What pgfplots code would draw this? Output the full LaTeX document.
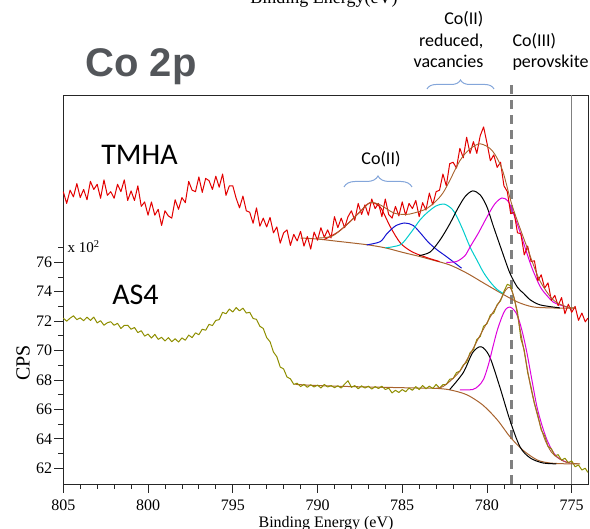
\documentclass[border=0pt]{standalone}
\usepackage{fontspec}
\setmainfont{Liberation Serif}
\newfontfamily\carlito{Carlito}
\newfontfamily\lsans{Liberation Sans}
\usepackage{pgfplots}
\pgfplotsset{compat=1.18}
\usetikzlibrary{decorations.pathreplacing}
\definecolor{spred}{RGB}{226,0,0}
\definecolor{spolive}{HTML}{8E8E00}
\definecolor{fitbrown}{HTML}{A8632E}
\definecolor{fitcyan}{HTML}{00CCCC}
\definecolor{fitblue}{HTML}{1414D2}
\definecolor{fitmag}{HTML}{DD00DD}
\definecolor{bracecol}{HTML}{84A6DA}
\definecolor{titlegray}{HTML}{53565A}
\definecolor{markgray}{HTML}{808080}

\begin{document}
\begin{tikzpicture}
\begin{axis}[
    scale only axis,
    width=524.7pt, height=389pt,
    x dir=reverse,
    xmin=774.04, xmax=805,
    ymin=60.93, ymax=87.37,
    xtick={775,780,...,805}, minor x tick num=4,
    ytick={62,64,...,76}, minor ytick={63,65,...,77},
    xtick pos=left, ytick pos=left,
    tick align=outside,
    major tick length=9pt, minor tick length=5pt,
    axis line style={black!85, line width=0.8pt},
    tick style={black!85, line width=0.8pt},
    xticklabel style={font=\fontsize{16}{18}\selectfont, inner sep=1pt, yshift=-5.5pt},
    yticklabel style={font=\fontsize{16}{18}\selectfont, inner sep=2pt},
    /pgf/number format/assume math mode=true,
    clip=false,
    every axis plot/.append style={line width=1pt, line join=round},
]
% reference lines
\draw[markgray, line width=1pt] (axis cs:775,60.93) -- (axis cs:775,87.37);
\draw[markgray, line width=2.8pt, dash pattern=on 9pt off 6pt] (axis cs:778.55,60.93) -- (axis cs:778.55,88.2);

% ---- TMHA fit components
\addplot[fitbrown, smooth] coordinates {
(791.0,77.65) (790,77.58) (789,77.45) (788,77.32) (787,77.18) (786,76.98) (785,76.68) (784,76.4)
(783.2,76.15) (782.2,75.82) (781.2,75.27) (780.2,74.59) (779.2,73.92) (778.2,73.3) (777.3,72.97)
(776.3,72.9) (775.3,72.88) (774.8,72.88)};
\addplot[spred, smooth] coordinates {
(789.6,77.55) (788.8,78.05) (788.1,78.74) (787.5,79.42) (786.9,80.05) (786.3,79.75) (785.7,78.4)
(785.1,77.3) (784.4,76.7) (783.5,76.3) (782.8,76.05)};
\addplot[fitblue, smooth] coordinates {
(787.1,77.18) (786.3,77.4) (785.9,77.95) (785.4,78.47) (784.85,78.67) (784.35,78.5) (783.9,77.95)
(783.45,77.35) (782.95,76.85) (782.35,76.35) (781.5,75.6)};
\addplot[fitcyan, smooth] coordinates {
(786.0,76.98) (785.1,77.2) (784.5,78.0) (783.95,78.88) (783.5,79.4) (783.0,79.83) (782.53,79.96)
(782.06,79.62) (781.77,79.08) (781.42,78.2) (781.0,77.04) (780.6,76.16) (780.2,75.3) (779.8,74.65)
(779.4,74.15) (779.0,73.85)};
\addplot[black, smooth] coordinates {
(784.0,76.45) (783.35,76.7) (782.75,77.55) (782.2,78.6) (781.75,79.6) (781.3,80.45) (780.85,80.85)
(780.4,80.58) (780.0,79.76) (779.65,78.54) (779.2,77.04) (778.65,75.27) (778.2,74.3) (777.85,73.9)
(777.45,73.45) (776.85,73.1) (775.7,72.9)};
\addplot[fitmag, smooth] coordinates {
(782.4,76.0) (781.8,76.05) (781.3,76.45) (781.0,77.04) (780.5,78.0) (780.0,79.08) (779.55,79.95)
(779.12,80.37) (778.75,80.15) (778.45,79.35) (778.05,78.06) (777.65,76.63) (777.3,75.48)
(776.85,74.32) (776.45,73.72) (776.1,73.3) (775.7,73.1) (775.3,72.97)};

% ---- AS4 fit components
\addplot[fitbrown, smooth] coordinates {
(791.3,67.7) (790,67.62) (788,67.55) (786,67.5) (784,67.45) (783,67.43) (782.2,67.33) (781.2,67.0)
(780.25,66.3) (779.4,65.3) (778.65,64.15) (777.9,63.25) (777.05,62.57) (776.3,62.36) (775.3,62.3)
(774.5,62.3)};
\addplot[black, smooth] coordinates {
(782.2,67.35) (781.4,68.5) (780.85,69.85) (780.35,70.26) (779.85,69.6) (779.25,67.55) (778.65,65.28)
(778.05,63.45) (777.45,62.7) (776.7,62.36) (775.9,62.3)};
\addplot[fitmag, smooth] coordinates {
(781.6,67.33) (780.85,67.35) (780.5,67.6) (780.2,68.05) (779.9,69.1) (779.65,70.25) (779.4,71.35)
(779.12,72.28) (778.9,72.8) (778.65,72.96) (778.4,72.75) (778.17,72.28) (777.9,71.2) (777.64,69.83)
(777.35,68.0) (777.05,66.17) (776.75,64.9) (776.46,63.93) (776.15,63.2) (775.87,62.77) (775.5,62.5)
(775.1,62.36)};

% ---- TMHA data
\addplot[spred] coordinates {
(805.0,80.8) (804.8,80.0) (804.6,80.9) (804.4,80.45) (804.2,81.35) (804.0,80.4) (803.8,80.95)
(803.6,80.25) (803.4,81.5) (803.2,80.95) (803.0,81.3) (802.8,80.35) (802.6,81.6) (802.4,80.55)
(802.2,80.8) (802.0,80.35) (801.8,81.3) (801.6,80.8) (801.4,81.6) (801.2,80.2) (801.0,80.85)
(800.8,80.2) (800.6,81.2) (800.4,79.8) (800.2,80.1) (800.0,79.2) (799.8,80.1) (799.6,79.2)
(799.4,79.6) (799.2,78.5) (799.0,79.5) (798.8,79.15) (798.6,79.0) (798.4,80.25) (798.2,79.6)
(798.0,80.4) (797.8,80.05) (797.6,81.5) (797.4,80.9) (797.2,80.8) (797.0,81.8) (796.8,80.75)
(796.6,81.7) (796.4,81.55) (796.2,80.95) (796.0,81.85) (795.8,81.1) (795.6,82.0) (795.4,80.55)
(795.2,81.2) (795.0,81.2) (794.8,80.35) (794.6,79.7) (794.4,80.5) (794.2,79.5) (794.0,79.4)
(793.8,78.65) (793.6,79.7) (793.4,78.45) (793.2,79.0) (793.0,78.4) (792.8,79.05) (792.6,78.0)
(792.4,78.4) (792.2,77.3) (792.0,78.0) (791.8,78.2) (791.6,77.15) (791.4,77.9) (791.2,77.45)
(791.0,78.1) (790.8,77.1) (790.6,77.75) (790.4,76.9) (790.2,78.05) (790.0,77.5) (789.8,78.35)
(789.6,77.7) (789.4,78.2) (789.2,77.65) (789.0,79.1) (788.8,78.35) (788.6,79.0) (788.4,78.35)
(788.2,79.1) (788.0,79.5) (787.8,78.85) (787.6,80.0) (787.4,79.25) (787.2,79.9) (787.0,79.2)
(786.8,80.3) (786.6,79.65) (786.4,80.0) (786.2,79.1) (786.0,80.3) (785.8,79.25) (785.6,79.0)
(785.4,79.8) (785.2,79.15) (785.0,80.1) (784.8,79.2) (784.6,80.0) (784.4,79.65) (784.2,80.2)
(784.0,79.1) (783.8,80.05) (783.6,79.55) (783.4,80.7) (783.2,79.9) (783.0,80.8) (782.8,80.9)
(782.6,82.0) (782.4,81.2) (782.2,82.7) (782.0,82.8) (781.8,82.4) (781.6,83.75) (781.4,83.1)
(781.2,84.5) (781.0,83.4) (780.8,84.2) (780.6,83.4) (780.4,84.6) (780.2,85.2) (780.0,84.1)
(779.8,82.9) (779.6,83.3) (779.4,82.45) (779.2,82.8) (779.0,81.2) (778.8,80.8) (778.6,79.3)
(778.4,79.4) (778.2,78.0) (778.0,77.95) (777.8,76.5) (777.6,77.1) (777.4,76.05) (777.2,76.1)
(777.0,74.75) (776.8,75.15) (776.6,74.25) (776.4,74.6) (776.2,73.4) (776.0,73.75) (775.8,73.05)
(775.6,73.6) (775.4,72.5) (775.2,73.15) (775.0,72.6) (774.8,73.0) (774.6,72.05) (774.4,72.55)
(774.2,71.95) (774.05,72.2)};

% ---- AS4 data
\addplot[spolive] coordinates {
(805.0,72.2) (804.8,72.0) (804.6,72.2) (804.4,72.36) (804.2,72.1) (804.0,72.22) (803.8,72.03)
(803.6,72.27) (803.4,72.05) (803.2,72.27) (803.0,71.88) (802.8,72.03) (802.6,71.72) (802.4,71.89)
(802.2,71.96) (802.0,71.72) (801.8,71.85) (801.6,71.5) (801.4,71.71) (801.2,71.72) (801.0,71.45)
(800.8,71.57) (800.6,71.22) (800.4,71.35) (800.2,70.98) (800.0,71.12) (799.8,70.85) (799.6,71.1)
(799.4,70.76) (799.2,70.9) (799.0,70.65) (798.8,70.88) (798.6,70.6) (798.4,70.8) (798.2,70.58)
(798.0,70.86) (797.8,70.7) (797.6,71.05) (797.4,70.88) (797.2,71.2) (797.0,71.08) (796.8,71.45)
(796.6,71.38) (796.4,71.78) (796.2,71.7) (796.0,72.05) (795.8,72.1) (795.6,72.6) (795.4,72.5)
(795.2,72.82) (795.0,72.62) (794.8,72.92) (794.6,72.7) (794.4,72.88) (794.2,72.55) (794.0,72.6)
(793.8,72.18) (793.6,72.12) (793.4,71.65) (793.2,71.5) (793.0,70.88) (792.8,70.6) (792.6,69.9)
(792.4,69.58) (792.2,68.88) (792.0,68.75) (791.8,68.2) (791.6,68.08) (791.4,67.7) (791.2,67.78)
(791.0,67.55) (790.8,67.7) (790.6,67.5) (790.4,67.68) (790.2,67.52) (790.0,67.66) (789.8,67.45)
(789.6,67.7) (789.4,67.52) (789.2,67.62) (789.0,67.48) (788.8,67.6) (788.6,67.45) (788.4,67.72)
(788.2,67.95) (788.0,67.5) (787.8,67.62) (787.6,67.4) (787.4,67.6) (787.2,67.45) (787.0,67.58)
(786.8,67.38) (786.6,67.55) (786.4,67.42) (786.2,67.58) (786.0,67.35) (785.8,67.45) (785.6,67.12)
(785.4,67.3) (785.2,67.15) (785.0,67.35) (784.8,67.2) (784.6,67.45) (784.4,67.3) (784.2,67.55)
(784.0,67.35) (783.8,67.62) (783.6,67.4) (783.4,67.58) (783.2,67.42) (783.0,67.7) (782.8,67.45)
(782.6,67.68) (782.4,67.7) (782.2,68.05) (782.0,68.1) (781.8,68.5) (781.6,68.6) (781.4,69.02)
(781.2,69.2) (781.0,69.85) (780.8,70.05) (780.6,70.75) (780.4,70.95) (780.2,71.65) (780.0,71.82)
(779.8,72.42) (779.6,72.55) (779.4,73.12) (779.2,73.38) (779.0,74.02) (778.8,74.5) (778.6,74.4)
(778.4,73.55) (778.2,72.62) (778.0,70.8) (777.8,70.02) (777.6,68.5) (777.4,67.52) (777.2,66.4)
(777.0,65.62) (776.8,64.6) (776.6,64.2) (776.4,63.5) (776.2,63.32) (776.0,62.85) (775.8,62.92)
(775.6,62.55) (775.4,62.68) (775.2,62.38) (775.0,62.5) (774.8,62.1) (774.6,62.22) (774.4,61.88)
(774.2,62.0) (774.05,61.72)};

% ---- fit envelopes
\addplot[fitbrown, smooth, line width=0.9pt] coordinates {
(790.0,77.65) (789.1,77.8) (788.1,78.74) (787.5,79.42) (786.9,80.05) (786.3,79.9) (785.5,79.35)
(784.8,79.25) (784.3,79.35) (783.5,79.69) (782.6,80.71) (781.6,82.9) (781.0,83.7) (780.4,84.05)
(779.7,83.6) (779.1,82.3) (778.5,79.8) (777.6,76.9) (776.9,74.8) (776.1,73.45) (775.3,72.97)
(774.8,72.9)};
\addplot[fitbrown, smooth, line width=0.9pt] coordinates {
(783.0,67.43) (782.6,67.55) (782.2,67.9) (781.6,68.6) (781.0,69.75) (780.4,71.05) (779.8,72.3)
(779.2,73.45) (778.9,74.1) (778.65,74.3) (778.4,73.6) (778.2,72.4) (777.8,69.9) (777.4,67.4)
(777.0,65.5) (776.6,64.0) (776.2,63.1) (775.8,62.7) (775.3,62.4) (774.6,62.3)};
\end{axis}

% text
\node[anchor=base, font=\lsans\bfseries\fontsize{40}{44}\selectfont, text=titlegray] at (77.7pt,407pt) {Co 2p};
\node[anchor=base, font=\carlito\fontsize{30}{34}\selectfont] at (76.2pt,319pt) {TMHA};
\node[anchor=base, font=\carlito\fontsize{30}{34}\selectfont] at (72.2pt,179pt) {AS4};
\node[anchor=base, font=\carlito\fontsize{18}{22}\selectfont] at (317.7pt,319pt) {Co(II)};
\node[anchor=base east, font=\carlito\fontsize{18}{22}\selectfont] at (423.7pt,459pt) {Co(II)};
\node[anchor=base east, font=\carlito\fontsize{18}{22}\selectfont] at (423.7pt,437pt) {reduced,};
\node[anchor=base east, font=\carlito\fontsize{18}{22}\selectfont] at (423.7pt,416pt) {vacancies};
\node[anchor=base west, font=\carlito\fontsize{18}{22}\selectfont] at (445.7pt,437pt) {Co(III)};
\node[anchor=base west, font=\carlito\fontsize{18}{22}\selectfont] at (445.7pt,416pt) {perovskite};
\draw[bracecol, line width=1pt, decorate, decoration={brace, amplitude=9pt}] (363.7pt,395pt) -- (430.7pt,395pt);
\draw[bracecol, line width=1pt, decorate, decoration={brace, amplitude=11pt}] (280.7pt,297pt) -- (348.7pt,297pt);
\node[anchor=base west, font=\fontsize{15}{17}\selectfont] at (0.7pt,231pt) {x 10\textsuperscript{2}};
\node[rotate=90, font=\fontsize{20}{22}\selectfont] at (-40.3pt,121pt) {CPS};
\node[anchor=base, inner sep=0pt, font=\fontsize{16}{18}\selectfont] at (262.7pt,-43.5pt) {Binding Energy (eV)};
\node[anchor=base, font=\fontsize{18}{20}\selectfont] at (260.7pt,480pt) {Binding Energy(eV)};

\pgfresetboundingbox
\path[use as bounding box] (-63.3pt,-45pt) rectangle (526.7pt,484pt);
\end{tikzpicture}
\end{document}
